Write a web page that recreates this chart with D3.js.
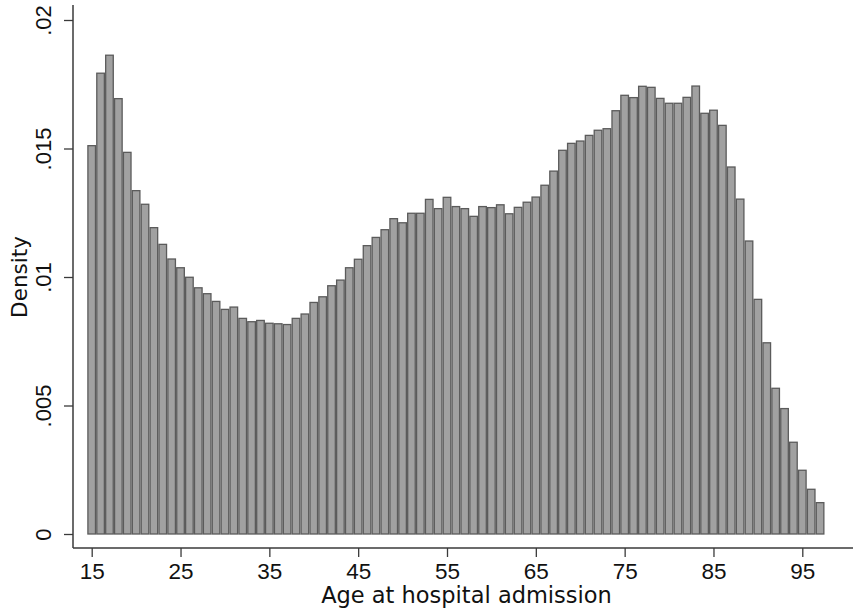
<!DOCTYPE html>
<html>
<head>
<meta charset="utf-8">
<script src="https://cdn.jsdelivr.net/npm/d3@7"></script>
<style>
  html, body { margin: 0; padding: 0; background: #fff; }
  svg { display: block; font-family: "DejaVu Sans", sans-serif; }
</style>
</head>
<body>
<svg id="chart" width="853" height="614"></svg>
<script>
// Histogram of age at hospital admission: one-year bins centred on each age
const ages = [15,16,17,18,19,20,21,22,23,24,25,26,27,28,29,30,31,32,33,34,35,36,37,38,39,
  40,41,42,43,44,45,46,47,48,49,50,51,52,53,54,55,56,57,58,59,60,61,62,63,64,65,66,67,68,69,
  70,71,72,73,74,75,76,77,78,79,80,81,82,83,84,85,86,87,88,89,90,91,92,93,94,95,96,97];

const density = [0.01511,0.01793,0.01863,0.01694,0.01485,0.01336,0.01283,0.01192,0.01127,0.01070,
  0.01036,0.00999,0.00958,0.00935,0.00905,0.00874,0.00883,0.00839,0.00826,0.00831,
  0.00820,0.00818,0.00815,0.00839,0.00856,0.00901,0.00923,0.00966,0.00988,0.01036,
  0.01069,0.01122,0.01154,0.01184,0.01227,0.01211,0.01248,0.01248,0.01302,0.01266,
  0.01310,0.01274,0.01266,0.01236,0.01274,0.01270,0.01281,0.01246,0.01271,0.01291,
  0.01311,0.01357,0.01412,0.01493,0.01520,0.01529,0.01551,0.01571,0.01577,0.01647,
  0.01707,0.01698,0.01742,0.01738,0.01695,0.01676,0.01676,0.01699,0.01743,0.01637,
  0.01649,0.01590,0.01428,0.01303,0.01140,0.00913,0.00744,0.00567,0.00488,0.00357,
  0.00248,0.00174,0.00122];

const xTicks = [15,25,35,45,55,65,75,85,95];
const yTicks = [0,0.005,0.01,0.015,0.02];

const xTitle = "Age at hospital admission";
const yTitle = "Density";

const svg = d3.select("#chart");

const x = d3.scaleLinear().domain([15, 95]).range([91.7, 802.3]);
const y = d3.scaleLinear().domain([0, 0.02]).range([534, 20]);

const axisX = 73;     // where the vertical axis sits
const axisY = 548;    // where the horizontal axis sits
const ink = "#3a3a3a";

// bars
const sw = 1.3;
svg.append("g")
  .selectAll("rect")
  .data(ages.map((a, i) => ({ age: a, d: density[i] })))
  .join("rect")
  .attr("x", d => x(d.age - 0.5) + sw / 2)
  .attr("width", d => x(d.age + 0.5) - x(d.age - 0.5) - sw)
  .attr("y", d => y(d.d))
  .attr("height", d => y(0) - y(d.d))
  .attr("fill", "#a1a1a1")
  .attr("stroke", "#5b5b5b")
  .attr("stroke-width", sw);

// y axis
const yAxis = d3.axisLeft(y)
  .tickValues(yTicks)
  .tickSize(9)
  .tickFormat(d => d === 0 ? "0" : String(d).replace(/^0/, ""));

const gy = svg.append("g")
  .attr("transform", `translate(${axisX},0)`)
  .call(yAxis);
gy.select(".domain").remove();
gy.selectAll(".tick line").attr("stroke", ink).attr("stroke-width", 1.3);
gy.selectAll(".tick text")
  .attr("fill", "#111")
  .attr("font-size", 22)
  .attr("x", null).attr("dy", null)
  .attr("text-anchor", "middle")
  .attr("transform", "translate(-22,0) rotate(-90)");
gy.append("line")
  .attr("x1", 0).attr("x2", 0)
  .attr("y1", 5).attr("y2", axisY)
  .attr("stroke", ink).attr("stroke-width", 1.5);

// x axis
const xAxis = d3.axisBottom(x)
  .tickValues(xTicks)
  .tickSize(9)
  .tickFormat(d3.format("d"));

const gx = svg.append("g")
  .attr("transform", `translate(0,${axisY})`)
  .call(xAxis);
gx.select(".domain").remove();
gx.selectAll(".tick line").attr("stroke", ink).attr("stroke-width", 1.3);
gx.selectAll(".tick text")
  .attr("fill", "#111")
  .attr("font-size", 22.5)
  .attr("y", 31).attr("dy", null);
gx.append("line")
  .attr("x1", axisX).attr("x2", 853)
  .attr("y1", 0).attr("y2", 0)
  .attr("stroke", ink).attr("stroke-width", 1.5);

// axis titles
svg.append("text")
  .attr("x", 466.5).attr("y", 603)
  .attr("text-anchor", "middle")
  .attr("font-size", 22.5)
  .attr("fill", "#111")
  .text(xTitle);

svg.append("text")
  .attr("transform", "translate(27,277) rotate(-90)")
  .attr("text-anchor", "middle")
  .attr("font-size", 21.5)
  .attr("fill", "#111")
  .text(yTitle);
</script>
</body>
</html>
